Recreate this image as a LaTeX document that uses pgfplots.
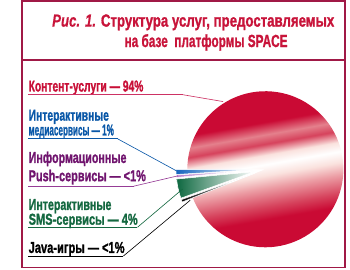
\documentclass[border=0pt]{standalone}
\usepackage{pgfplots}
\pgfplotsset{compat=1.18}
\usepackage{pgfplotstable}
\usepackage{graphicx}
\usepackage{fontspec}
\setmainfont{Liberation Sans}
\newfontfamily\heavy{Liberation Sans Bold}[FakeBold=1.4]
\newfontfamily\heavyit{Liberation Sans Bold Italic}[FakeBold=0.4]

% palette
\definecolor{pieRed}{RGB}{202,10,52}
\definecolor{pieRedA}{RGB}{214,66,92}
\definecolor{piePink}{RGB}{236,158,165}
\definecolor{piePinkB}{RGB}{228,128,140}
\definecolor{pieBlush}{RGB}{250,226,222}
\definecolor{frameC}{RGB}{160,25,70}
\definecolor{titleC}{RGB}{200,20,58}
\definecolor{contentC}{RGB}{200,15,55}
\definecolor{contentLine}{RGB}{205,50,100}
\definecolor{mediaC}{RGB}{10,88,168}
\definecolor{mediaS}{RGB}{20,100,190}
\definecolor{pushC}{RGB}{112,20,110}
\definecolor{pushS}{RGB}{185,130,205}
\definecolor{pushLine}{RGB}{150,60,150}
\definecolor{smsC}{RGB}{20,104,64}
\definecolor{smsS}{RGB}{15,105,65}
\definecolor{smsM}{RGB}{120,185,145}

% glossy band across the pie
\pgfdeclareverticalshading{pieglow}{100bp}{%
  color(0bp)=(pieRed); color(34bp)=(pieRed); color(38bp)=(pieRedA);
  color(44bp)=(piePink); color(48bp)=(pieBlush); color(51.5bp)=(white);
  color(54.5bp)=(pieBlush); color(58bp)=(pieRedA); color(61bp)=(piePinkB);
  color(65bp)=(pieRed); color(100bp)=(pieRed)}

% shares of the services, percent
\pgfplotstableread{
service share
media   1
push    0.5
sms     4
java    0.5
content 94
}\servicetable

% text squeezed to a given width, natural height kept
\newcommand\lbl[2]{\resizebox{#1}{\height}{#2}}

% one pie sector: start angle, end angle, explode distance, style
\newcommand\pieslice[4]{%
  \path[#4] ({260+#3*cos((#1+#2)/2)},{107+#3*sin((#1+#2)/2)})
    -- plot[domain=#1:#2, samples=90]
       ({260+#3*cos((#1+#2)/2)+83*cos(\x)},{107+#3*sin((#1+#2)/2)+83*sin(\x)})
    -- cycle;}

\tikzset{lab/.style={anchor=base west, inner sep=0, font=\heavy\fontsize{12.6}{13}\selectfont}}

\begin{document}
\pgfplotstablegetelem{0}{share}\of\servicetable\let\sMedia\pgfplotsretval
\pgfplotstablegetelem{1}{share}\of\servicetable\let\sPush\pgfplotsretval
\pgfplotstablegetelem{2}{share}\of\servicetable\let\sSms\pgfplotsretval
\pgfplotstablegetelem{3}{share}\of\servicetable\let\sJava\pgfplotsretval
\pgfplotstablegetelem{4}{share}\of\servicetable\let\sContent\pgfplotsretval
\pgfmathsetmacro\aStart{180}
\pgfmathsetmacro\aMedia{\aStart+3.6*\sMedia}
\pgfmathsetmacro\aPush{\aMedia+3.6*\sPush}
\pgfmathsetmacro\aSms{\aPush+3.6*\sSms}
\pgfmathsetmacro\aJava{\aSms+3.6*\sJava}
\pgfmathsetmacro\aContent{\aJava+3.6*\sContent}
\begin{tikzpicture}
\begin{axis}[
  x=0.75pt, y=0.75pt,
  xmin=0, xmax=350, ymin=0, ymax=287,
  hide axis, clip=false,
]
% frame and title rule
\draw[frameC, line width=1.4pt] (1.5,2.5) rectangle (345,286.3);
\draw[frameC, line width=1.1pt] (1.5,223) -- (345,223);

% title
\node[anchor=base west, inner sep=0, text=titleC,
      font=\fontsize{14}{15}\selectfont] at (33,258.7)
  {\lbl{225pt}{\heavyit Рис. 1. \heavy Структура услуг, предоставляемых}};
\node[anchor=base west, inner sep=0, text=titleC,
      font=\heavy\fontsize{14}{15}\selectfont] at (110,237)
  {\lbl{130pt}{на базе\ \ платформы SPACE}};

% pie: main sector, then exploded small sectors
\pieslice{\aJava}{\aContent}{0}{shade, shading=pieglow, shading angle=10}
\pieslice{\aStart}{\aMedia}{12}{left color=mediaS, middle color=mediaS, right color=white, draw=white, line width=0.4pt}
\pieslice{\aMedia}{\aPush}{12}{left color=pushS, right color=white, draw=white, line width=0.4pt}
\pieslice{\aPush}{\aSms}{12}{left color=smsS, middle color=smsM, right color=white, draw=white, line width=0.4pt}
\pieslice{\aSms}{\aJava}{12}{left color=black, middle color=black, right color=white, draw=white, line width=0.4pt}

% labels with leaders
\node[lab, text=contentC] at (8,189.7) {\lbl{91.5pt}{Контент-услуги — 94\%}};
\draw[contentLine, line width=0.75pt] (8,186.3) -- (172,186.3);
\draw[contentLine, line width=0.5pt] (172,186.3) -- (215,179);

\node[lab, text=mediaC] at (8,158.7) {\lbl{64pt}{Интерактивные}};
\node[lab, text=mediaC] at (8,143) {\lbl{68pt}{медиасервисы — 1\%}};
\draw[mediaC, line width=0.75pt] (8,139.3) -- (103,139.3);
\draw[mediaC, line width=0.5pt] (103,139.3) -- (166,105);

\node[lab, text=pushC] at (8,113.7) {\lbl{78pt}{Информационные}};
\node[lab, text=pushC] at (8,94.3) {\lbl{93.5pt}{Push-сервисы — <1\%}};
\draw[pushLine, line width=0.75pt] (8,89) -- (120,89);
\draw[pushLine, line width=0.5pt] (120,89) -- (167,100);

\node[lab, text=smsC] at (8,63.7) {\lbl{66pt}{Интерактивные}};
\node[lab, text=smsC] at (8,48) {\lbl{87pt}{SMS-сервисы — 4\%}};
\draw[smsC, line width=0.75pt] (8,45.3) -- (124,45.3);
\draw[smsC, line width=0.5pt] (124,45.3) -- (172,86);

\node[lab, text=black] at (8,18) {\lbl{76.5pt}{Java-игры — <1\%}};
\draw[black, line width=0.75pt] (8,14.7) -- (109,14.7);
\draw[black, line width=0.5pt] (109,14.7) -- (180,74);
\end{axis}
% picture extent: the 350 x 287 unit drawing area
\pgfresetboundingbox
\path[use as bounding box] (0,0) rectangle (262.5pt,215.25pt);
\end{tikzpicture}
\end{document}
